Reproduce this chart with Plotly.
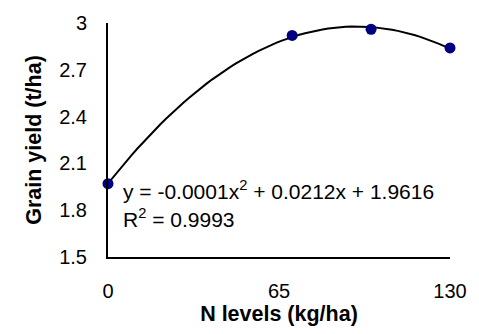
import numpy as np
import plotly.graph_objects as go

n_levels = [0, 70, 100, 130]
grain_yield = [1.97, 2.92, 2.96, 2.84]
x_ticks = [0, 65, 130]
y_ticks = [1.5, 1.8, 2.1, 2.4, 2.7, 3.0]
y_tick_labels = ["1.5", "1.8", "2.1", "2.4", "2.7", "3"]

# Polynomial (order 2) trendline fitted to the data, as in the original chart
coef = np.polyfit(n_levels, grain_yield, 2)
xt = np.linspace(min(n_levels), max(n_levels), 60)
yt = np.polyval(coef, xt)

font = "Liberation Sans, Arial, sans-serif"

fig = go.Figure()
fig.add_trace(go.Scatter(x=xt, y=yt, mode="lines",
                         line=dict(color="black", width=2),
                         hoverinfo="skip", showlegend=False, cliponaxis=False))
fig.add_trace(go.Scatter(x=n_levels, y=grain_yield, mode="markers",
                         marker=dict(color="#000080", size=11),
                         showlegend=False, cliponaxis=False))

fig.update_layout(
    width=479, height=334,
    margin=dict(l=108, r=19, t=22, b=77),
    paper_bgcolor="white", plot_bgcolor="white",
    font=dict(family=font, size=20, color="black"),
    xaxis=dict(range=[0, 130], tickvals=x_ticks, ticktext=[str(v) for v in x_ticks],
               showgrid=False, zeroline=False, showline=True, linecolor="black", linewidth=2,
               ticks="outside", ticklen=15, tickcolor="rgba(0,0,0,0)",
               tickfont=dict(size=20),
               title=dict(text="<b>N levels (kg/ha)</b>", font=dict(size=21.5), standoff=4)),
    yaxis=dict(range=[1.5, 3.0], tickvals=y_ticks, ticktext=y_tick_labels,
               showgrid=False, zeroline=False, showline=True, linecolor="black", linewidth=2,
               ticks="outside", ticklen=15, tickcolor="rgba(0,0,0,0)",
               tickfont=dict(size=20),
               title=dict(text="<b>Grain yield (t/ha)</b>", font=dict(size=21.5), standoff=12)),
    annotations=[
        dict(xref="paper", yref="paper", x=13/352, y=(257-190)/235, xanchor="left", yanchor="middle",
             text="y = -0.0001x<sup>2</sup> + 0.0212x + 1.9616", showarrow=False,
             font=dict(size=21)),
        dict(xref="paper", yref="paper", x=13/352, y=(257-218)/235, xanchor="left", yanchor="middle",
             text="R<sup>2</sup> = 0.9993", showarrow=False, font=dict(size=21)),
    ],
)

fig.write_html("out.html")
